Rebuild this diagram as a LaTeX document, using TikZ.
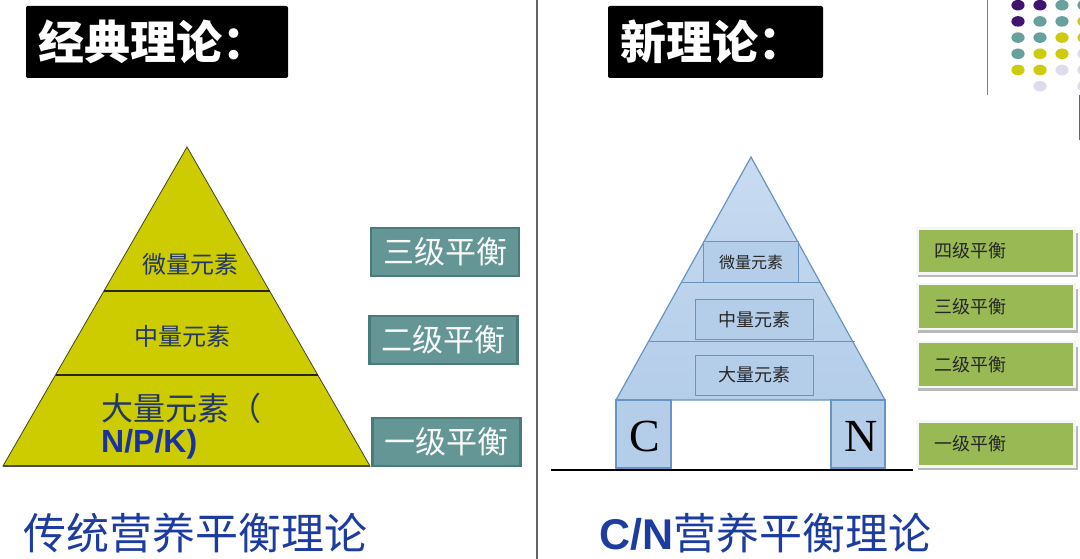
\documentclass[tikz,border=0pt]{standalone}
\usepackage{fontspec}
\setmainfont{Liberation Serif}
\newfontfamily\cjk{Noto Sans CJK SC}
\newfontfamily\arialf{Liberation Sans}
\definecolor{pyy}{RGB}{204,204,0}
\definecolor{pyline}{RGB}{70,70,30}
\definecolor{navy}{RGB}{35,55,105}
\definecolor{npkblue}{RGB}{25,50,160}
\definecolor{tealf}{RGB}{100,150,150}
\definecolor{teald}{RGB}{75,122,122}
\definecolor{lbfill}{RGB}{180,205,233}
\definecolor{lbtop}{RGB}{200,219,241}
\definecolor{lbline}{RGB}{105,148,192}
\definecolor{grn}{RGB}{152,185,84}
\definecolor{botblue}{RGB}{28,60,160}
\definecolor{dpurple}{RGB}{64,20,110}
\definecolor{dteal}{RGB}{104,160,158}
\definecolor{dyel}{RGB}{204,204,10}
\definecolor{dlav}{RGB}{220,220,236}
\newcommand{\fs}[1]{\fontsize{#1}{#1}\selectfont}
\tikzset{
  titletext/.style={anchor=west, text=white, inner sep=0pt, font=\cjk\bfseries\fs{46}},
  pytext/.style={text=navy, inner sep=0pt, font=\cjk\fs{24}},
  tealbox/.style={draw=teald, line width=2.5pt, fill=tealf, text=white!95!gray, inner sep=0pt, font=\cjk\fs{31}},
  bluebox/.style={draw=lbline, line width=1pt, fill=lbfill, text=black!85, inner sep=0pt, font=\cjk\fs{18}},
  grnbox/.style={fill=grn, draw=white!93!gray, line width=2.5pt, minimum width=157pt, minimum height=45pt, inner sep=0pt},
  grntext/.style={anchor=west, text=black!85, inner sep=0pt, font=\cjk\fs{18}},
  bigletter/.style={inner sep=0pt, font=\fs{46}},
  bottomtext/.style={anchor=west, text=botblue, inner sep=0pt, font=\cjk\fs{43}},
}
\begin{document}
\begin{tikzpicture}[x=1pt,y=-1pt]
\useasboundingbox (0,0) rectangle (1080,559);
\fill[white] (0,0) rectangle (1080,559);
% decorative dots
\begin{scope}
\clip (0,0) rectangle (1080,559);
\foreach \c/\r/\col in {1/1/dpurple,2/1/dpurple,3/1/dteal,4/1/dteal,
  1/2/dpurple,2/2/dteal,3/2/dteal,4/2/dyel,
  1/3/dteal,2/3/dteal,3/3/dyel,4/3/dyel,
  1/4/dteal,2/4/dyel,3/4/dyel,4/4/dlav,
  1/5/dyel,2/5/dyel,3/5/dlav,4/5/dlav,
  2/6/dlav,4/6/dlav}
  \fill[\col] ({996+22*\c},{-11+16.2*\r}) ellipse (6.6pt and 5.3pt);
\end{scope}
\draw[gray, line width=1pt] (987,0) -- (987,95);
\draw[gray!80!black, line width=1pt] (1079.5,95) -- (1079.5,140);
% divider
\draw[black!60, line width=1.3pt] (537,0) -- (537,559);
% titles
\fill[black, rounded corners=2pt] (26,6) rectangle (288,78);
\node[titletext] (t1) at (38,42) {经典理论：};
\fill[black, rounded corners=2pt] (608,6) rectangle (823,78);
\node[titletext] (t2) at (620,42) {新理论：};
% left pyramid
\filldraw[fill=pyy, draw=pyline, line width=0.8pt] (187,147) -- (370,466) -- (3,466) -- cycle;
\draw[black!85, line width=1.3pt] (104,291) -- (269.6,291);
\draw[black!85, line width=1.3pt] (55.5,375) -- (317.8,375);
\draw[black!70, line width=1.2pt] (3,466) -- (370,466);
\node[pytext] (p1) at (190,264) {微量元素};
\node[pytext] (p2) at (182,336) {中量元素};
\node[anchor=west, text=navy, inner sep=0pt, font=\cjk\fs{32}] (p3) at (101,408) {大量元素（};
\node[anchor=west, text=npkblue, inner sep=0pt, font=\arialf\bfseries\fs{32}] (p4) at (101,444) {N/P/K)};
% teal boxes
\node[tealbox, minimum width=148pt, minimum height=48pt] (b3) at (445,252) {三级平衡};
\node[tealbox, minimum width=148pt, minimum height=48pt] (b2) at (443.5,340) {二级平衡};
\node[tealbox, minimum width=148pt, minimum height=48pt] (b1) at (446.5,442) {一级平衡};
% right pyramid
\shade[top color=lbtop, bottom color=lbfill] (751,157) -- (885,400) -- (616,400) -- cycle;
\draw[lbline, line width=1.2pt] (751,157) -- (885,400) -- (616,400) -- cycle;
\draw[lbline, line width=1.2pt] (703.6,241.7) -- (798.3,241.7);
\draw[lbline, line width=1.2pt] (681.2,282.7) -- (820.3,282.7);
\draw[lbline, line width=1.2pt] (648.4,341.7) -- (855,341.7);
\filldraw[fill=lbfill, draw=lbline, line width=1.2pt] (616,400) rectangle (671,468);
\filldraw[fill=lbfill, draw=lbline, line width=1.2pt] (831,400) rectangle (885,468);
\node[bluebox, minimum width=94.7pt, minimum height=41pt, font=\cjk\fs{16}] (r1) at (751,262.2) {微量元素};
\node[bluebox, minimum width=118pt, minimum height=40pt] (r2) at (754.7,319.7) {中量元素};
\node[bluebox, minimum width=118pt, minimum height=40pt] (r3) at (754.7,375) {大量元素};
\node[bigletter] (c) at (645,436) {C};
\node[bigletter] (n) at (861,436) {N};
\draw[black, line width=1.3pt] (551,470) -- (913,470);
% green boxes
\foreach \nm/\yy/\tx in {g4/251/四级平衡, g3/306.5/三级平衡, g2/364.5/二级平衡, g1/444/一级平衡}{
  \fill[gray!55] (918,\yy-18) rectangle (1078,\yy+26);
  \node[grnbox] (\nm) at (996,\yy) {};
  \node[grntext] (\nm t) at (934,\yy) {\tx};
}
% bottom texts
\node[bottomtext] (l1) at (23,533) {传统营养平衡理论};
\node[bottomtext] (l2) at (599,533) {{\arialf\bfseries C/N}营养平衡理论};
\end{tikzpicture}
\end{document}
